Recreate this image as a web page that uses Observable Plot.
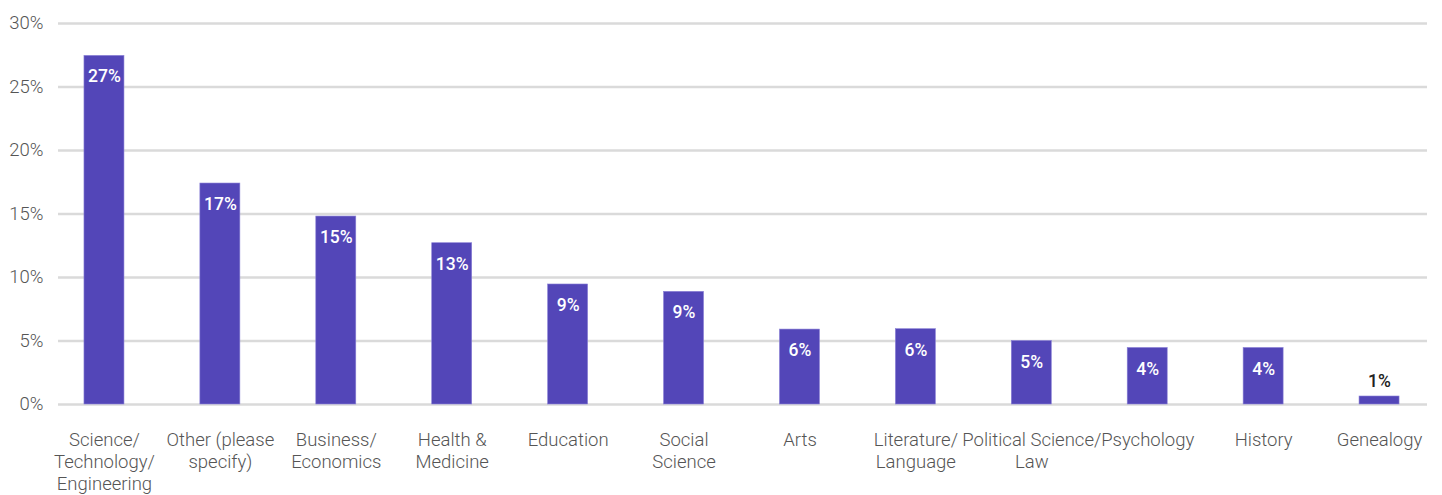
<!DOCTYPE html>
<html><head><meta charset="utf-8">
<script src="https://cdn.jsdelivr.net/npm/d3@7"></script>
<script src="https://cdn.jsdelivr.net/npm/@observablehq/plot@0.6"></script>
<style>body{margin:0;background:#fff;}</style>
</head><body><div id="chart"></div>
<script>
const categories = [
  "Science/\nTechnology/\nEngineering",
  "Other (please\nspecify)",
  "Business/\nEconomics",
  "Health &\nMedicine",
  "Education",
  "Social\nScience",
  "Arts",
  "Literature/\nLanguage",
  "Political Science/\nLaw",
  "Psychology",
  "History",
  "Genealogy"
];
const values = [27.45, 17.4, 14.8, 12.7, 9.45, 8.87, 5.9, 5.93, 5.0, 4.45, 4.45, 0.63];
const yTicks = [0, 5, 10, 15, 20, 25, 30];

const data = categories.map((c, i) => ({category: c, value: values[i], label: Math.round(values[i]) + "%"}));

const chart = Plot.plot({
  width: 1442, height: 495,
  marginTop: 23, marginBottom: 91, marginLeft: 58, marginRight: 15,
  style: {fontFamily: "Roboto", fontSize: "18px", color: "#555", background: "#fff"},
  x: {domain: categories, range: [46, 1437], paddingInner: 0.655, paddingOuter: 0.3275, round: false},
  y: {domain: [0, 30]},
  marks: [
    Plot.ruleY(yTicks, {stroke: "#dadada", strokeWidth: 2.5}),
    Plot.barY(data, {x: "category", y: "value", fill: "#5346b8", stroke: "#8a80d6", strokeWidth: 0.6}),
    Plot.text(data.filter(d => d.value >= 2), {x: "category", y: "value", text: "label", dy: 21, fill: "white", fontSize: 17.5, fontWeight: 500}),
    Plot.text(data.filter(d => d.value < 2), {x: "category", y: "value", text: "label", dy: -15, fill: "#222", fontSize: 17.5, fontWeight: 500}),
    Plot.axisY({ticks: yTicks, tickFormat: d => d + "%", tickSize: 0, tickPadding: 15, fontWeight: 300, fontSize: 18.5, fill: "#555", label: null}),
    Plot.axisX({tickSize: 0, tickPadding: 26, lineHeight: 1.19, fontWeight: 300, fontSize: 18.5, fill: "#555", label: null})
  ]
});
document.getElementById("chart").append(chart);
</script>
</body></html>
